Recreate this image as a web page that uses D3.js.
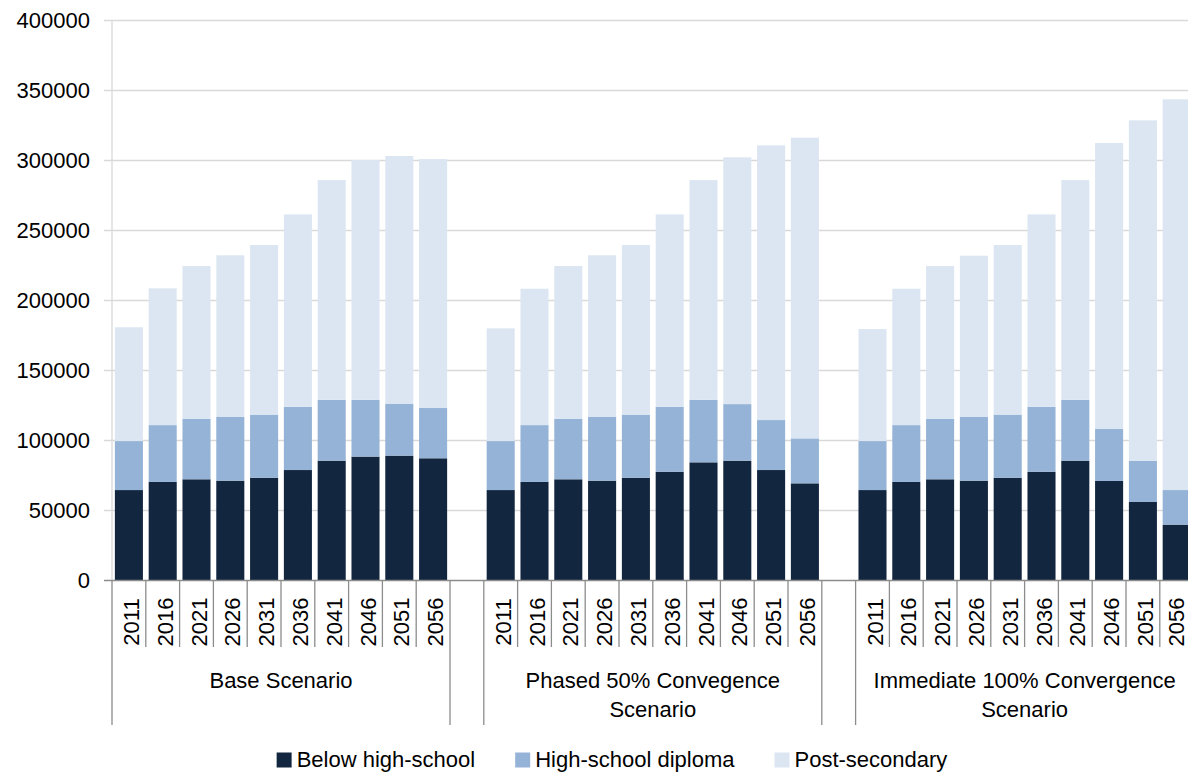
<!DOCTYPE html>
<html>
<head>
<meta charset="utf-8">
<script src="https://cdn.jsdelivr.net/npm/d3@7"></script>
<style>
  body { margin: 0; background: #fff; }
  svg { display: block; }
  text { font-family: "Liberation Sans", Arial, sans-serif; fill: #000; }
</style>
</head>
<body>
<svg id="chart" width="1188" height="774"></svg>
<script>
// ---- data ----
const years = ["2011", "2016", "2021", "2026", "2031", "2036", "2041", "2046", "2051", "2056"];
const scenarios = ["Base Scenario", "Phased 50% Convegence Scenario", "Immediate 100% Convergence Scenario"];
const seriesNames = ["Below high-school", "High-school diploma", "Post-secondary"];
const seriesColors = ["#132640", "#95b3d7", "#dce6f2"];
const yTicks = [0, 50000, 100000, 150000, 200000, 250000, 300000, 350000, 400000];

// Base Scenario
const baseBelow = [64600, 70400, 72300, 71300, 73400, 78900, 85600, 88500, 89200, 87300];
const baseDiploma = [35000, 40600, 43100, 45500, 45100, 45100, 43400, 40500, 37100, 35900];
const basePost = [81300, 97700, 109200, 115500, 121100, 137500, 157000, 171400, 176900, 177800];

// Phased 50% convergence
const phasedBelow = [64600, 70400, 72300, 71300, 73400, 77700, 84400, 85600, 78900, 69400];
const phasedDiploma = [35000, 40600, 43100, 45500, 45100, 46300, 44600, 40400, 35700, 32100];
const phasedPost = [80500, 97400, 109200, 115500, 121100, 137500, 157000, 176300, 196200, 214800];

// Immediate 100% convergence
const immediateBelow = [64600, 70400, 72300, 71300, 73400, 77700, 85600, 71100, 56100, 39900];
const immediateDiploma = [35000, 40600, 43100, 45500, 45100, 46300, 43400, 37100, 29500, 24700];
const immediatePost = [80000, 97400, 109200, 115200, 121100, 137500, 157000, 204300, 243100, 279100];

const scenarioSeries = [
  [baseBelow, baseDiploma, basePost],
  [phasedBelow, phasedDiploma, phasedPost],
  [immediateBelow, immediateDiploma, immediatePost]
];

// ---- build rows: one per scenario/year, with an empty slot between scenarios ----
const rows = [];
const slots = [];
scenarios.forEach((sc, gi) => {
  if (gi > 0) slots.push("gap" + gi);
  years.forEach((yr, i) => {
    const key = gi + "|" + yr;
    slots.push(key);
    const r = { key, group: gi, year: yr };
    seriesNames.forEach((s, si) => { r[s] = scenarioSeries[gi][si][i]; });
    rows.push(r);
  });
});

// ---- layout ----
const W = 1188;
const svg = d3.select("#chart");
const left = 112;
const slotW = 33.8;
const right = left + slots.length * slotW;
const yTop = 20.5, yBottom = 580.5;

const x = d3.scaleBand().domain(slots).range([left, right]).paddingInner(0.17).paddingOuter(0.085);
const y = d3.scaleLinear().domain([0, 400000]).range([yBottom, yTop]);

// gridlines and y tick marks
svg.append("g").selectAll("line").data(yTicks.filter(t => t > 0)).join("line")
  .attr("x1", 104).attr("x2", W)
  .attr("y1", d => y(d)).attr("y2", d => y(d))
  .attr("stroke", "#d9d9d9").attr("stroke-width", 1.3);

// y axis line
svg.append("line")
  .attr("x1", left).attr("x2", left).attr("y1", yTop).attr("y2", yBottom)
  .attr("stroke", "#d9d9d9").attr("stroke-width", 1.3);

// y tick labels
svg.append("g").selectAll("text").data(yTicks).join("text")
  .attr("x", 90).attr("y", d => y(d)).attr("dy", "0.36em")
  .attr("text-anchor", "end").attr("font-size", 22)
  .text(d => d);

// stacked bars
const stack = d3.stack().keys(seriesNames);
const layers = stack(rows);
svg.append("g").selectAll("g").data(layers).join("g")
  .attr("fill", (d, i) => seriesColors[i])
  .selectAll("rect").data(d => d).join("rect")
  .attr("x", d => x(d.data.key))
  .attr("width", x.bandwidth())
  .attr("y", d => y(d[1]))
  .attr("height", d => y(d[0]) - y(d[1]));

// category axis: baseline, year separators, group separators
const axisColor = "#8c8c8c";
svg.append("line")
  .attr("x1", 104).attr("x2", W).attr("y1", yBottom).attr("y2", yBottom)
  .attr("stroke", axisColor).attr("stroke-width", 1.3);

const step = x.step();
const slotLeft = k => x(k) - step * x.paddingInner() / 2;

// short separators between years within each scenario
const yearSeps = [];
rows.forEach(r => {
  if (r.year !== years[0]) yearSeps.push(slotLeft(r.key));
});
svg.append("g").selectAll("line").data(yearSeps).join("line")
  .attr("x1", d => d).attr("x2", d => d)
  .attr("y1", yBottom).attr("y2", 647)
  .attr("stroke", axisColor).attr("stroke-width", 1.3);

// long separators at scenario boundaries (and around the empty slots)
const groupSeps = [left, right];
slots.forEach(k => {
  if (k.startsWith("gap")) { groupSeps.push(slotLeft(k)); groupSeps.push(slotLeft(k) + step); }
});
svg.append("g").selectAll("line").data(groupSeps).join("line")
  .attr("x1", d => d).attr("x2", d => d)
  .attr("y1", yBottom).attr("y2", 725)
  .attr("stroke", axisColor).attr("stroke-width", 1.3);

// rotated year labels (kept inside the drawing area at the right edge)
svg.append("g").selectAll("text").data(rows).join("text")
  .attr("transform", d => {
    const bx = Math.min(x(d.key) + x.bandwidth() / 2 + 10, W - 4);
    return `translate(${bx},622) rotate(-90)`;
  })
  .attr("text-anchor", "middle").attr("font-size", 22)
  .text(d => d.year);

// scenario labels, wrapped to the scenario width
const groupLabels = svg.append("g");
scenarios.forEach((sc, gi) => {
  const first = gi + "|" + years[0];
  const last = gi + "|" + years[years.length - 1];
  const gx0 = slotLeft(first), gx1 = slotLeft(last) + step;
  const cx = (gx0 + gx1) / 2;
  const maxW = gx1 - gx0 - 18;
  const t = groupLabels.append("text").attr("font-size", 22).attr("text-anchor", "middle");
  const words = sc.split(" ");
  const lines = [];
  let line = [];
  const probe = t.append("tspan");
  words.forEach(w => {
    line.push(w);
    probe.text(line.join(" "));
    if (probe.node().getComputedTextLength() > maxW && line.length > 1) {
      line.pop();
      lines.push(line.join(" "));
      line = [w];
    }
  });
  lines.push(line.join(" "));
  probe.remove();
  lines.forEach((l, li) => {
    t.append("tspan").attr("x", cx).attr("y", 688 + li * 29).text(l);
  });
});

// legend
const legend = svg.append("g");
let lx = 0;
seriesNames.forEach((s, i) => {
  const g = legend.append("g").attr("transform", `translate(${lx},0)`);
  g.append("rect").attr("x", 0).attr("y", 752.5).attr("width", 15).attr("height", 15).attr("fill", seriesColors[i]);
  const tx = g.append("text").attr("x", 20).attr("y", 767).attr("font-size", 22).text(s);
  lx += 20 + tx.node().getComputedTextLength() + 40;
});
const legendW = lx - 40;
legend.attr("transform", `translate(${612 - legendW / 2},0)`);
</script>
</body>
</html>
